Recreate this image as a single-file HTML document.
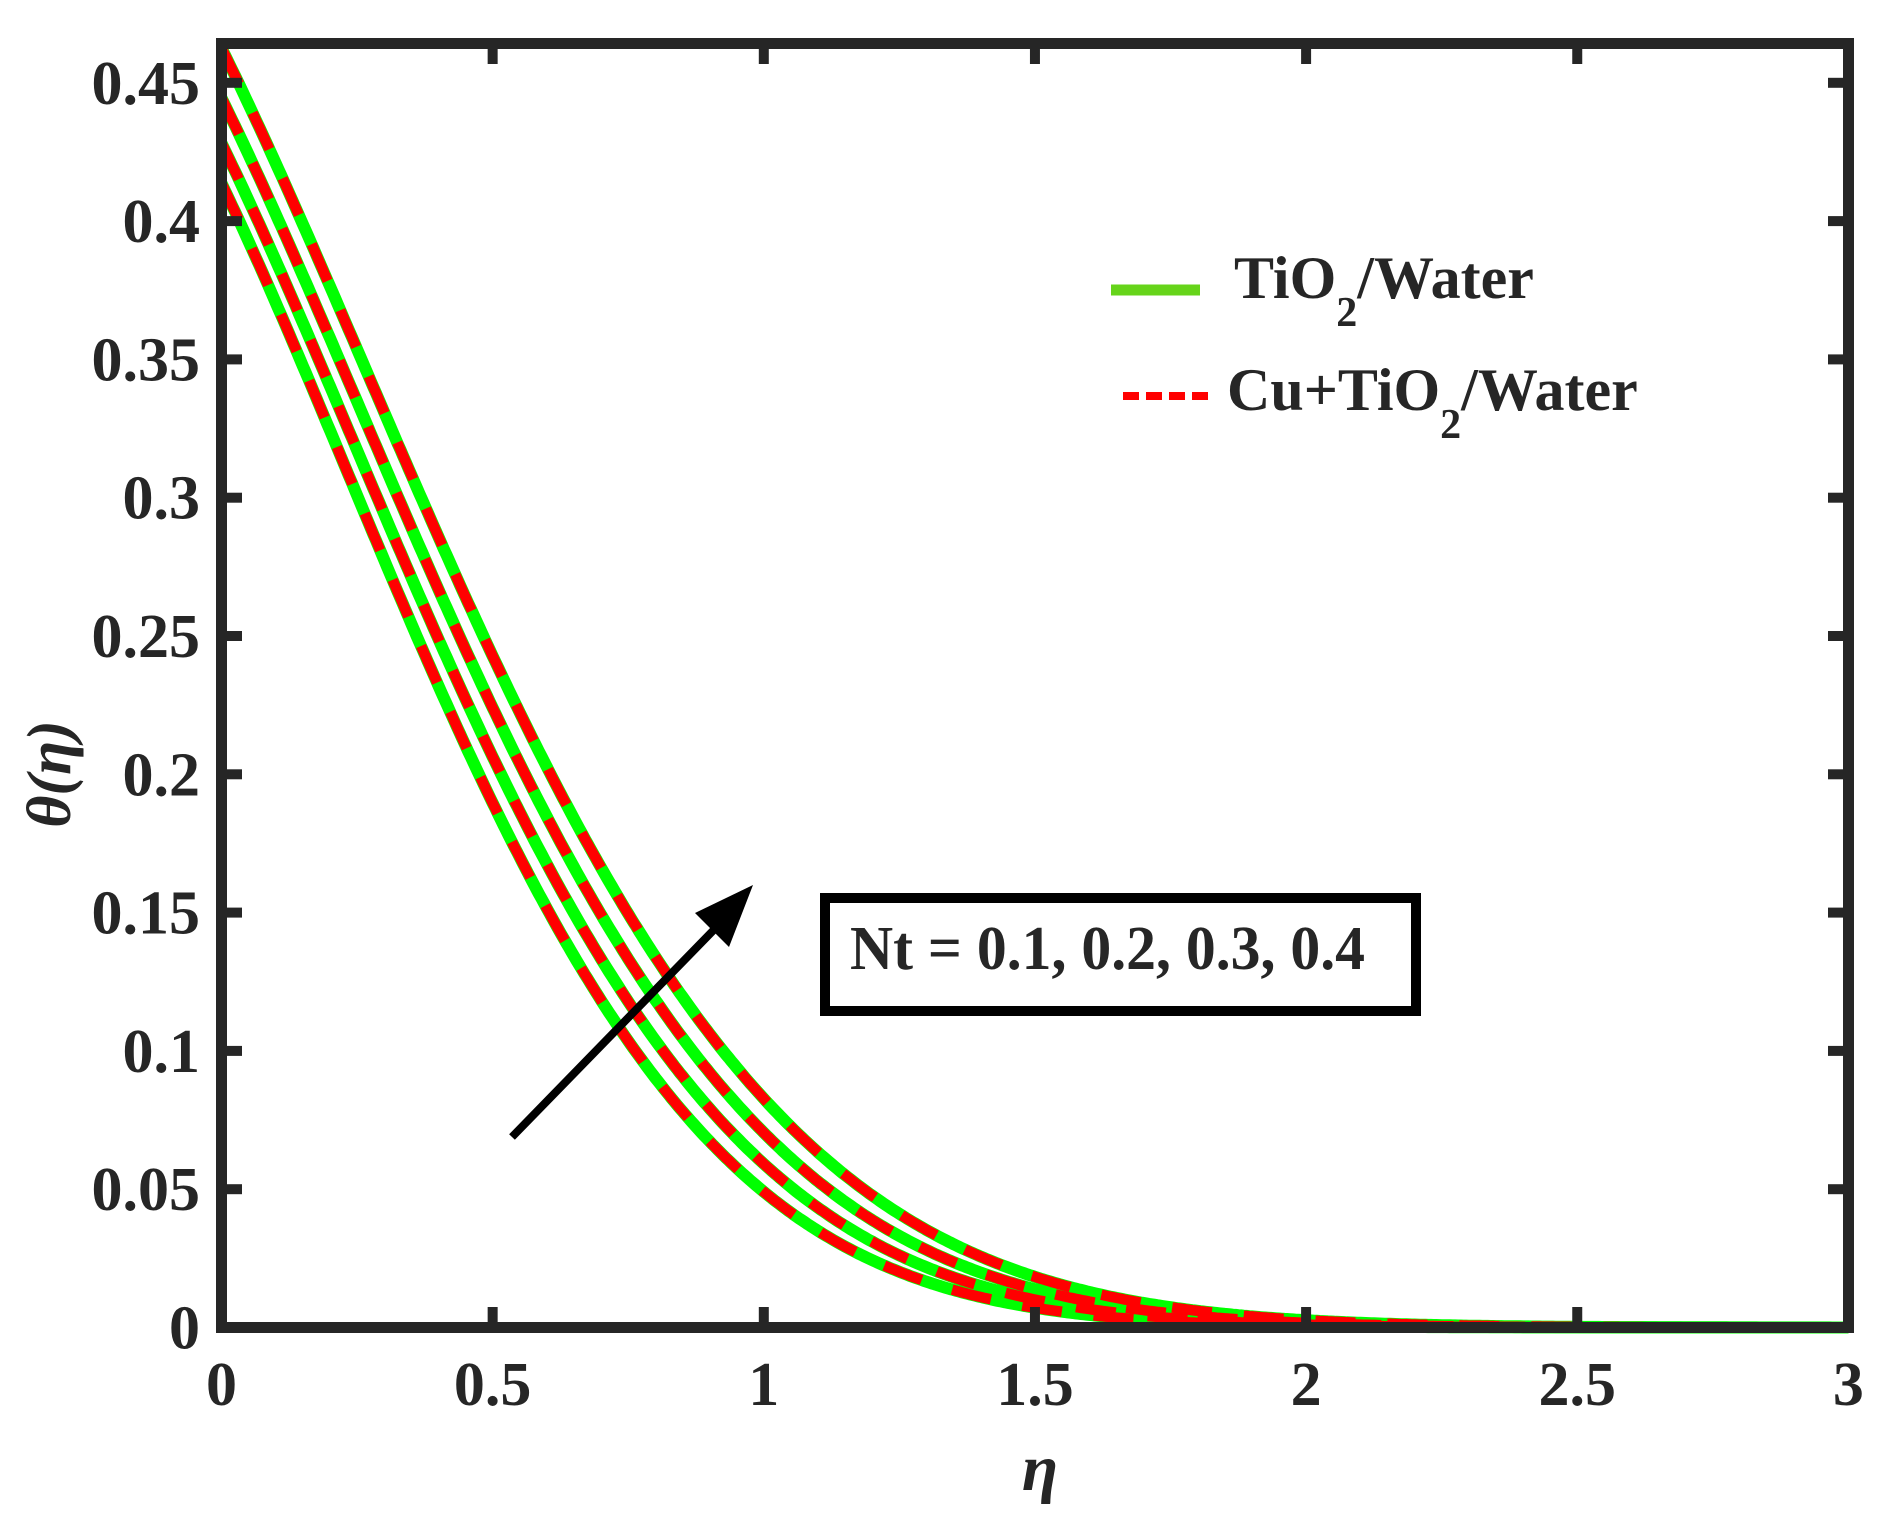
<!DOCTYPE html>
<html><head><meta charset="utf-8"><style>
html,body{margin:0;padding:0;background:#fff;}
svg{display:block;}
text{font-family:"Liberation Serif",serif;font-weight:bold;fill:#262626;}
</style></head><body>
<svg id="s" width="1886" height="1525" viewBox="0 0 1886 1525" xmlns="http://www.w3.org/2000/svg">
<rect width="1886" height="1525" fill="#fff"/>
<g id="curves"></g>
<g stroke="#262626" stroke-width="10" fill="none" id="ticks"></g>
<rect x="221.5" y="43.5" width="1627" height="1284" fill="none" stroke="#262626" stroke-width="11"/>
<g font-size="62" text-anchor="end" id="ylab"></g>
<g font-size="62" text-anchor="middle" id="xlab"></g>
<text x="1040" y="1490" font-size="66" font-style="italic" text-anchor="middle">η</text>
<text transform="translate(70,774) rotate(-90)" font-size="62" font-style="italic" text-anchor="middle">θ(η)</text>
<line x1="1111" y1="290" x2="1200" y2="290" stroke="#66d41a" stroke-width="11"/>
<text x="1234" y="298" font-size="60" fill="#000">TiO<tspan font-size="42" dy="28">2</tspan><tspan dy="-28">/Water</tspan></text>
<line x1="1123" y1="396" x2="1209" y2="396" stroke="#ff0000" stroke-width="8" stroke-dasharray="16 7"/>
<text x="1227" y="410" font-size="60" fill="#000">Cu+TiO<tspan font-size="42" dy="28">2</tspan><tspan dy="-28">/Water</tspan></text>
<rect x="825" y="898" width="591" height="113" fill="#fff" stroke="#000" stroke-width="10"/>
<text x="850" y="969" font-size="62" fill="#000" textLength="515" lengthAdjust="spacingAndGlyphs">Nt = 0.1, 0.2, 0.3, 0.4</text>
<line x1="512" y1="1137" x2="740" y2="903" stroke="#000" stroke-width="8"/>
<polygon points="753,885 695,913 729,947" fill="#000"/>
</svg>
<script>
const X=e=>221.5+e*542.3, Y=v=>1327.5-v*2766;
const p=0.972,q=1.108;
const A=[0.4137,0.4282,0.4445,0.4626], S=[0.984,1.033,1.083,1.133];
let g='';
function path(a,s){let d='';for(let i=0;i<=600;i++){const e=i*3/600;const u=e/s;const v=a*Math.exp(-p*u-q*u*u);d+=(i?'L':'M')+X(e).toFixed(1)+' '+Y(v).toFixed(1);}return d;}
for(let k=0;k<4;k++){g+='<path d="'+path(A[k],S[k])+'" fill="none" stroke="#00ff00" stroke-width="12"/>';}
for(let k=0;k<4;k++){g+='<path d="'+path(A[k],S[k])+'" fill="none" stroke="#ff0000" stroke-width="10.5" stroke-dasharray="40 32"/>';}
document.getElementById('curves').innerHTML=g;
let t='',yl='',xl='';
for(let i=1;i<=9;i++){const y=Y(i*0.05);t+='<line x1="227" y1="'+y+'" x2="242" y2="'+y+'"/><line x1="1843" y1="'+y+'" x2="1828" y2="'+y+'"/>';}
for(let i=0;i<=9;i++){const y=Y(i*0.05);const lab=i==0?'0':(i*0.05).toFixed(2).replace(/0$/,'');yl+='<text x="200" y="'+(y+21)+'">'+lab+'</text>';}
for(let i=1;i<=5;i++){const x=X(i*0.5);t+='<line x1="'+x+'" y1="1322" x2="'+x+'" y2="1307"/><line x1="'+x+'" y1="49" x2="'+x+'" y2="64"/>';}
for(let i=0;i<=6;i++){const x=X(i*0.5);const lab=(i*0.5).toString();xl+='<text x="'+x+'" y="1405">'+lab+'</text>';}
document.getElementById('ticks').innerHTML=t;
document.getElementById('ylab').innerHTML=yl;
document.getElementById('xlab').innerHTML=xl;
</script>
</body></html>
